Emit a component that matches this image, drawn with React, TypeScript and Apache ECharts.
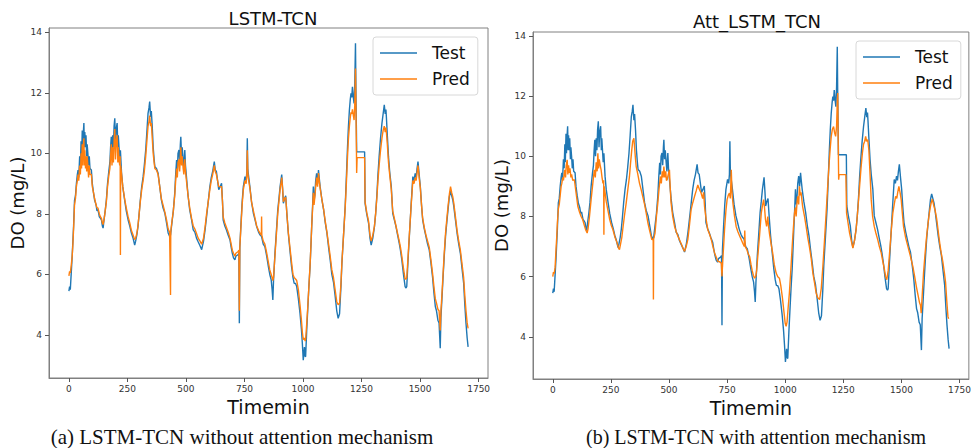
import React, { useEffect, useRef } from "react";
import * as echarts from "echarts";

const xTicks = [0, 250, 500, 750, 1000, 1250, 1500, 1750];
const yTicks = [4, 6, 8, 10, 12, 14];
const titles = ["LSTM-TCN", "Att_LSTM_TCN"];
const captions = ["(a) LSTM-TCN without attention mechanism", "(b) LSTM-TCN with attention mechanism"];
const seriesNames = ["Test", "Pred"];

// measured DO (test) series, shared by both panels: [time, value]
const testSeries: number[][] = [
  [0,5.45],[3,5.6],[6,5.5],[10,6.05],[14,6.6],[17,7.1],[20,7.6],[24,8.45],[28,8.6],[32,9.0],[36,9.3],[39,9.45],[42,9.2],[46,9.9],[49,9.6],[52,10.4],[54,9.8],[57,10.75],[59,10.1],[61,10.6],[64,11.0],[66,10.2],[68,10.7],[71,10.2],[73,10.6],[76,9.9],[78,10.3],[81,10.0],[84,9.6],[87,9.9],[90,9.5],[96,9.45],[100,9.0],[105,8.7],[110,8.45],[116,8.3],[120,8.1],[124,8.15],[130,7.9],[135,7.85],[139,7.8],[143,7.6],[146,7.53],[150,7.8],[155,8.1],[160,8.46],[165,9.0],[171,9.45],[175,9.7],[178,10.2],[181,10.55],[184,10.0],[187,10.6],[190,10.2],[193,10.9],[196,11.16],[199,10.3],[202,10.8],[206,11.0],[209,10.2],[211,10.6],[214,10.2],[217,9.8],[220,10.1],[225,9.34],[230,8.9],[238,8.46],[245,8.1],[253,7.8],[260,7.6],[267,7.37],[274,7.2],[281,6.97],[285,7.1],[290,7.3],[295,7.58],[300,8.0],[305,8.46],[311,8.9],[317,9.23],[322,9.6],[328,10.11],[333,10.7],[338,11.32],[342,11.5],[345,11.71],[349,11.2],[352,11.4],[356,10.88],[360,10.2],[364,9.8],[367,9.56],[374,9.5],[381,9.34],[388,8.9],[395,8.46],[402,8.2],[410,8.02],[417,7.7],[424,7.37],[430,7.26],[434,7.3],[437,7.5],[440,7.7],[446,8.1],[452,8.68],[456,9.3],[460,9.78],[463,9.4],[466,10.0],[470,10.11],[473,9.7],[476,10.3],[478,10.55],[481,9.9],[484,10.2],[488,9.78],[491,9.5],[495,10.11],[498,9.6],[502,9.23],[509,8.6],[516,8.13],[524,7.8],[531,7.47],[538,7.4],[545,7.2],[552,7.08],[560,6.95],[567,6.82],[575,7.1],[582,7.5],[588,7.91],[595,8.4],[602,8.9],[608,9.2],[614,9.4],[621,9.73],[625,9.45],[630,9.4],[635,9.1],[640,8.8],[646,8.9],[652,9.01],[656,8.4],[659,7.8],[666,7.6],[673,7.47],[680,7.3],[688,7.14],[693,6.9],[698,6.7],[703,6.55],[709,6.48],[713,6.6],[716,6.6],[722,6.65],[726,6.7],[728,4.39],[730,6.9],[735,7.69],[740,8.4],[745,8.9],[752,9.23],[757,9.1],[760,9.4],[762,10.5],[764,9.5],[766,9.34],[773,8.9],[780,8.4],[788,8.02],[795,7.8],[802,7.58],[810,7.4],[817,7.3],[823,7.25],[830,7.0],[837,6.92],[845,6.6],[852,6.26],[858,6.0],[864,5.82],[868,5.5],[871,5.16],[874,5.8],[880,6.7],[886,7.4],[892,8.13],[897,8.5],[902,8.9],[909,9.3],[913,8.8],[916,8.35],[921,8.5],[926,8.6],[931,8.0],[937,7.37],[944,6.8],[951,6.26],[957,5.9],[962,5.71],[968,5.7],[973,5.6],[980,5.2],[987,4.72],[993,4.2],[997,3.73],[1001,3.17],[1006,3.6],[1009,3.3],[1011,3.28],[1016,4.2],[1020,4.83],[1025,5.6],[1030,6.26],[1034,7.0],[1037,7.58],[1041,8.3],[1044,8.9],[1047,8.4],[1051,8.68],[1054,9.1],[1058,9.34],[1062,9.0],[1066,9.45],[1069,9.2],[1073,8.9],[1080,8.5],[1088,8.13],[1095,7.7],[1102,7.37],[1109,6.9],[1116,6.48],[1123,6.0],[1130,5.75],[1137,5.3],[1144,4.8],[1150,4.55],[1156,4.7],[1162,5.6],[1166,6.37],[1173,7.3],[1180,8.24],[1185,9.2],[1190,10.22],[1194,10.9],[1198,11.43],[1202,11.8],[1205,11.98],[1208,11.85],[1211,12.2],[1214,11.9],[1218,11.65],[1221,12.3],[1224,13.64],[1226,12.0],[1228,10.77],[1229,10.05],[1263,10.05],[1265,8.35],[1272,8.0],[1280,7.69],[1286,7.2],[1291,6.97],[1298,7.2],[1305,7.58],[1310,8.0],[1315,8.57],[1320,9.3],[1325,9.89],[1331,10.5],[1337,10.99],[1342,11.3],[1347,11.6],[1351,11.3],[1354,11.45],[1356,11.2],[1360,10.6],[1365,9.89],[1370,9.4],[1377,8.9],[1383,8.02],[1390,7.8],[1397,7.58],[1404,7.3],[1411,7.03],[1416,6.8],[1422,6.48],[1429,6.0],[1436,5.6],[1440,5.55],[1443,5.6],[1448,6.4],[1454,7.25],[1462,8.35],[1469,9.23],[1474,9.1],[1479,9.34],[1483,9.2],[1487,9.5],[1491,9.73],[1496,9.3],[1501,8.9],[1506,8.3],[1511,7.8],[1518,7.5],[1525,7.25],[1532,7.0],[1539,6.81],[1546,6.4],[1553,5.93],[1559,5.4],[1565,4.94],[1570,4.8],[1576,4.49],[1581,4.4],[1586,3.56],[1589,4.6],[1593,5.16],[1598,5.9],[1603,6.59],[1609,7.3],[1615,7.8],[1620,8.2],[1625,8.57],[1630,8.75],[1635,8.6],[1640,8.45],[1644,8.24],[1651,7.8],[1658,7.36],[1665,7.0],[1672,6.7],[1679,6.2],[1686,5.71],[1691,5.0],[1696,4.39],[1701,3.9],[1705,3.61]
];

// LSTM-TCN prediction (panel a)
const predNoAtt: number[][] = [
  [0,5.95],[3,6.1],[6,6.05],[10,6.3],[14,6.6],[17,7.0],[20,7.5],[24,8.3],[28,8.5],[32,8.9],[36,9.1],[39,9.3],[42,9.1],[46,9.6],[49,9.3],[52,10.0],[54,9.5],[57,10.3],[59,9.6],[61,10.2],[64,10.5],[66,9.6],[68,10.1],[71,9.5],[73,9.9],[76,9.4],[78,9.9],[81,9.6],[84,9.2],[87,9.6],[90,9.3],[96,9.3],[100,8.9],[105,8.7],[110,8.5],[116,8.3],[120,8.2],[124,8.2],[130,8.0],[135,7.9],[139,7.85],[143,7.7],[146,7.65],[150,7.8],[155,8.1],[160,8.4],[165,8.9],[171,9.3],[175,9.5],[178,9.9],[181,10.3],[184,9.6],[187,10.2],[190,9.7],[193,10.4],[196,10.8],[199,9.8],[202,10.4],[206,10.6],[209,9.7],[211,10.2],[214,9.8],[217,9.6],[219,9.9],[220,6.64],[221,9.6],[225,9.3],[230,8.9],[238,8.5],[245,8.2],[253,7.9],[260,7.7],[267,7.45],[274,7.3],[281,7.15],[285,7.2],[290,7.35],[295,7.6],[300,8.0],[305,8.4],[311,8.8],[317,9.1],[322,9.4],[328,9.9],[333,10.4],[338,10.9],[342,11.05],[345,11.25],[349,10.9],[352,11.0],[356,10.5],[360,10.0],[364,9.7],[367,9.5],[374,9.45],[381,9.3],[388,8.9],[395,8.5],[402,8.3],[410,8.05],[417,7.8],[424,7.5],[430,7.4],[433,7.4],[434,5.32],[435,7.4],[437,7.55],[440,7.75],[446,8.1],[452,8.6],[456,9.1],[460,9.5],[463,9.2],[466,9.7],[470,9.8],[473,9.4],[476,9.9],[478,10.2],[481,9.6],[484,9.9],[488,9.5],[491,9.3],[495,9.8],[498,9.4],[502,9.1],[509,8.6],[516,8.2],[524,7.85],[531,7.6],[538,7.5],[545,7.35],[552,7.2],[560,7.1],[567,7.0],[575,7.2],[582,7.6],[588,8.0],[595,8.4],[602,8.8],[608,9.1],[614,9.3],[621,9.6],[625,9.4],[630,9.3],[635,9.1],[640,8.9],[646,8.9],[652,8.9],[656,8.4],[659,7.9],[666,7.7],[673,7.55],[680,7.4],[688,7.2],[693,7.0],[698,6.8],[703,6.7],[709,6.6],[713,6.7],[716,6.7],[722,6.75],[726,6.8],[728,4.8],[730,6.9],[735,7.6],[740,8.3],[745,8.8],[752,9.1],[757,9.0],[760,9.3],[762,10.1],[764,9.4],[766,9.2],[773,8.85],[780,8.4],[788,8.1],[795,7.85],[802,7.6],[810,7.45],[817,7.35],[822,7.3],[823,7.91],[824,7.3],[830,7.1],[837,7.0],[845,6.7],[852,6.4],[858,6.15],[864,6.0],[868,5.9],[871,5.8],[874,5.9],[880,6.6],[886,7.3],[892,8.0],[897,8.4],[902,8.8],[909,9.2],[913,8.8],[916,8.4],[921,8.5],[926,8.55],[931,8.0],[937,7.4],[944,6.9],[951,6.4],[957,6.0],[962,5.9],[968,5.85],[973,5.8],[980,5.5],[987,5.0],[993,4.5],[997,4.1],[1001,3.85],[1006,3.9],[1009,3.8],[1011,3.85],[1016,4.4],[1020,4.9],[1025,5.6],[1030,6.3],[1034,7.0],[1037,7.6],[1041,8.2],[1044,8.7],[1047,8.3],[1051,8.6],[1054,8.9],[1058,9.2],[1062,8.9],[1066,9.35],[1069,9.1],[1073,8.85],[1080,8.5],[1088,8.15],[1095,7.75],[1102,7.4],[1109,7.0],[1116,6.6],[1123,6.15],[1130,5.9],[1137,5.5],[1144,5.1],[1150,5.0],[1156,5.05],[1162,5.7],[1166,6.4],[1173,7.3],[1180,8.2],[1185,9.0],[1190,9.9],[1194,10.5],[1198,10.9],[1202,11.2],[1205,11.35],[1208,11.3],[1211,11.45],[1214,11.3],[1218,11.1],[1221,11.6],[1224,12.8],[1226,11.5],[1228,10.2],[1229,9.35],[1231,9.86],[1263,9.86],[1265,8.4],[1272,8.05],[1280,7.75],[1286,7.3],[1291,7.1],[1298,7.3],[1305,7.6],[1310,8.0],[1315,8.5],[1320,9.1],[1325,9.6],[1331,10.1],[1337,10.5],[1342,10.75],[1347,10.9],[1351,10.7],[1354,10.85],[1356,10.7],[1360,10.3],[1365,9.7],[1370,9.3],[1377,8.8],[1383,8.1],[1390,7.85],[1397,7.6],[1404,7.35],[1411,7.1],[1416,6.9],[1422,6.6],[1429,6.2],[1436,5.85],[1440,5.85],[1443,5.9],[1448,6.5],[1454,7.3],[1462,8.3],[1469,9.1],[1474,9.0],[1479,9.2],[1483,9.1],[1487,9.35],[1491,9.6],[1496,9.2],[1501,8.85],[1506,8.3],[1511,7.85],[1518,7.55],[1525,7.3],[1532,7.1],[1539,6.9],[1546,6.5],[1553,6.05],[1559,5.6],[1565,5.2],[1570,5.05],[1576,4.85],[1581,4.8],[1586,4.15],[1589,4.8],[1593,5.3],[1598,6.0],[1603,6.7],[1609,7.4],[1615,7.9],[1620,8.3],[1625,8.65],[1630,8.9],[1635,8.7],[1640,8.55],[1644,8.35],[1651,7.9],[1658,7.45],[1665,7.1],[1672,6.8],[1679,6.35],[1686,5.9],[1691,5.3],[1696,4.8],[1701,4.4],[1705,4.22]
];

// Att_LSTM_TCN prediction (panel b)
const predAtt: number[][] = [
  [0,6.0],[3,6.15],[6,6.1],[10,6.3],[14,6.9],[17,7.3],[20,7.8],[24,8.25],[28,8.4],[32,8.7],[36,9.0],[39,9.1],[43,9.3],[46,9.2],[49,9.4],[52,9.55],[55,9.3],[58,9.7],[62,9.88],[65,9.4],[68,9.7],[71,9.45],[74,9.6],[78,9.3],[81,9.4],[86,9.2],[93,9.22],[100,8.8],[108,8.33],[115,8.15],[122,8.0],[129,7.89],[136,7.7],[142,7.55],[148,7.45],[152,7.6],[158,8.0],[165,8.56],[171,9.0],[175,9.3],[179,9.55],[183,9.3],[187,9.8],[191,9.5],[194,10.1],[197,9.6],[200,9.9],[204,9.7],[208,9.55],[212,9.3],[216,9.1],[219,9.2],[220,7.39],[221,9.0],[225,8.8],[230,8.5],[237,8.22],[245,7.9],[252,7.7],[259,7.56],[268,7.3],[277,7.12],[283,6.95],[287,6.9],[292,7.1],[297,7.3],[301,7.56],[308,8.0],[316,8.45],[323,8.9],[330,9.33],[335,9.8],[340,10.22],[344,10.5],[349,10.6],[353,10.2],[356,9.9],[359,9.66],[366,9.4],[373,9.11],[380,8.9],[387,8.67],[395,8.4],[402,8.11],[409,7.8],[416,7.56],[421,7.4],[426,7.23],[432,7.25],[433,5.24],[434,7.25],[440,7.45],[446,8.0],[452,8.45],[457,8.9],[463,9.33],[467,9.1],[471,9.5],[475,9.3],[478,9.66],[482,9.3],[486,9.5],[489,9.2],[492,9.22],[497,9.4],[502,9.55],[505,9.0],[509,8.45],[516,8.0],[524,7.67],[531,7.5],[538,7.35],[545,7.23],[552,7.1],[560,6.95],[567,6.84],[574,7.0],[581,7.23],[588,7.7],[595,8.22],[602,8.45],[610,8.67],[617,8.85],[624,9.05],[631,8.9],[638,8.78],[645,8.6],[649,8.8],[653,8.33],[660,7.9],[667,7.56],[675,7.4],[682,7.23],[689,7.0],[696,6.79],[703,6.65],[710,6.51],[717,6.5],[725,6.45],[728,6.01],[731,6.5],[735,7.0],[739,7.56],[745,8.2],[750,8.56],[755,8.7],[760,8.78],[764,8.6],[768,9.55],[771,8.8],[775,8.45],[782,8.0],[789,7.67],[796,7.5],[804,7.35],[811,7.23],[818,7.1],[824,7.0],[826,7.53],[828,7.0],[835,6.9],[841,6.75],[847,6.67],[853,6.4],[858,6.2],[863,6.05],[868,5.95],[873,6.0],[877,6.2],[882,6.67],[890,7.4],[897,8.11],[902,8.35],[907,8.56],[911,8.3],[915,7.9],[920,7.67],[925,8.0],[928,7.7],[932,7.45],[939,7.1],[946,6.79],[953,6.4],[961,6.12],[968,6.0],[975,5.95],[981,5.7],[988,5.3],[995,4.8],[1000,4.45],[1004,4.35],[1008,4.5],[1013,5.0],[1018,5.46],[1024,6.2],[1030,7.0],[1035,7.6],[1040,8.11],[1044,8.3],[1047,8.0],[1051,8.5],[1054,8.67],[1058,8.4],[1061,9.0],[1065,8.7],[1068,8.8],[1075,8.33],[1083,8.0],[1090,7.67],[1097,7.3],[1104,7.0],[1112,6.6],[1119,6.12],[1126,5.8],[1133,5.46],[1140,5.3],[1148,5.24],[1155,5.6],[1162,6.34],[1169,7.2],[1176,8.11],[1182,8.9],[1188,9.66],[1193,10.2],[1198,10.66],[1203,10.9],[1208,10.99],[1212,10.8],[1217,10.66],[1221,11.0],[1224,11.8],[1226,12.1],[1228,10.5],[1230,9.22],[1232,9.39],[1261,9.39],[1264,8.11],[1270,7.8],[1277,7.45],[1284,7.2],[1291,6.95],[1298,7.2],[1305,7.56],[1312,8.2],[1320,9.0],[1326,9.6],[1332,10.1],[1337,10.4],[1342,10.5],[1346,10.66],[1350,10.5],[1355,10.55],[1360,10.2],[1365,9.4],[1370,8.56],[1376,8.0],[1383,7.67],[1390,7.45],[1398,7.23],[1405,7.0],[1413,6.79],[1420,6.5],[1427,6.23],[1432,6.0],[1437,5.9],[1443,6.2],[1449,6.79],[1456,7.5],[1463,8.11],[1469,8.4],[1475,8.67],[1480,8.6],[1484,8.8],[1489,9.0],[1494,8.8],[1499,8.56],[1504,8.1],[1509,7.67],[1518,7.3],[1528,7.0],[1538,6.7],[1549,6.34],[1557,6.0],[1564,5.68],[1571,5.4],[1578,5.13],[1582,5.05],[1585,4.79],[1588,5.2],[1595,6.12],[1601,6.7],[1607,7.23],[1612,7.6],[1618,8.0],[1624,8.3],[1628,8.45],[1633,8.58],[1638,8.4],[1645,8.2],[1652,7.9],[1660,7.4],[1665,7.1],[1671,6.79],[1678,6.5],[1685,6.12],[1690,5.8],[1695,5.2],[1700,4.68],[1703,4.6]
];

const BLUE = "#1f77b4";
const ORANGE = "#ff7f0e";
const FONT = "DejaVu Sans";
const SERIF = "Liberation Serif";

export default function App() {
  const ref = useRef<HTMLDivElement>(null);
  useEffect(() => {
    if (!ref.current) return;
    const chart = echarts.init(ref.current, undefined, { renderer: "svg" });
    const grids = [
      { left: 49, top: 28, width: 439, height: 350 },
      { left: 533, top: 32, width: 437, height: 347 },
    ];
    const xAxis = grids.map((_, i) => ({
      type: "value",
      gridIndex: i,
      min: -85,
      max: 1790,
      splitLine: { show: false },
      axisLine: { show: true, onZero: false, lineStyle: { color: "#808080", width: 1 } },
      axisTick: { show: true, length: 4, lineStyle: { color: "#555" }, customValues: xTicks },
      axisLabel: { customValues: xTicks, fontSize: 9, color: "#333", margin: 6, fontFamily: FONT, formatter: (v: number) => String(v) },
      name: "Timemin",
      nameLocation: "middle",
      nameGap: 10,
      nameTextStyle: { fontSize: 19, color: "#111", fontFamily: FONT, verticalAlign: "top" },
    }));
    const yAxis = grids.map((_, i) => ({
      type: "value",
      gridIndex: i,
      min: i === 0 ? 2.58 : 2.6,
      max: i === 0 ? 14.14 : 14.13,
      splitLine: { show: false },
      axisLine: { show: true, onZero: false, lineStyle: { color: "#808080", width: 1 } },
      axisTick: { show: true, length: 4, lineStyle: { color: "#555" }, customValues: yTicks },
      axisLabel: { customValues: yTicks, fontSize: 9, color: "#333", margin: 7, fontFamily: FONT, formatter: (v: number) => String(v) },
      name: "DO (mg/L)",
      nameLocation: "middle",
      nameGap: 19,
      nameRotate: 90,
      nameTextStyle: { fontSize: 18, color: "#111", fontFamily: FONT },
    }));
    const predSets = [predNoAtt, predAtt];
    const series: any[] = [];
    grids.forEach((_, i) => {
      series.push({
        name: seriesNames[0], type: "line", xAxisIndex: i, yAxisIndex: i,
        data: testSeries, symbol: "none", lineStyle: { color: BLUE, width: 1.4 }, itemStyle: { color: BLUE },
      });
      series.push({
        name: seriesNames[1], type: "line", xAxisIndex: i, yAxisIndex: i,
        data: predSets[i], symbol: "none", lineStyle: { color: ORANGE, width: 1.4 }, itemStyle: { color: ORANGE },
      });
    });
    const legendBase = {
      orient: "vertical",
      data: seriesNames,
      selectedMode: false,
      icon: "rect",
      backgroundColor: "#fff",
      borderColor: "#d8d8d8",
      borderWidth: 1,
      borderRadius: 3,
      padding: [6, 8, 6, 7],
      itemGap: 6,
      itemWidth: 37,
      itemHeight: 1.6,
      textStyle: { fontSize: 17, lineHeight: 20, color: "#111", fontFamily: FONT, padding: [0, 0, 0, 10] },
    };
    chart.setOption({
      animation: false,
      backgroundColor: "#fff",
      grid: grids.map((g) => ({ ...g, show: true, borderColor: "#808080", borderWidth: 1, backgroundColor: "transparent" })),
      xAxis,
      yAxis,
      series,
      title: [
        { text: titles[0], left: 268, top: 4, textAlign: "center", textStyle: { fontSize: 18, fontWeight: "normal", color: "#111", fontFamily: FONT } },
        { text: titles[1], left: 752, top: 7, textAlign: "center", textStyle: { fontSize: 18, fontWeight: "normal", color: "#111", fontFamily: FONT } },
      ],
      legend: [
        { ...legendBase, left: 373, top: 37 },
        { ...legendBase, left: 856, top: 41 },
      ],
      graphic: [
        { type: "text", x: 242, y: 437, style: { text: captions[0], fontSize: 21, fontFamily: SERIF, fill: "#111", textAlign: "center", textVerticalAlign: "middle" } },
        { type: "text", x: 756, y: 437, style: { text: captions[1], fontSize: 20, fontFamily: SERIF, fill: "#111", textAlign: "center", textVerticalAlign: "middle" } },
      ],
    });
    return () => chart.dispose();
  }, []);
  return <div ref={ref} style={{ position: "fixed", left: 0, top: 0, width: 974, height: 448 }} />;
}
